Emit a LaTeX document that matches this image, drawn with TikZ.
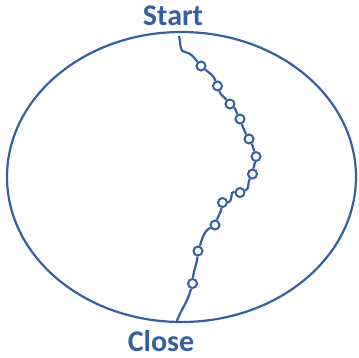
\documentclass[tikz,border=0pt]{standalone}
\usepackage{fontspec}
\setmainfont{Carlito}
\usetikzlibrary{shapes.geometric}
\definecolor{mainblue}{HTML}{35609F}
\begin{document}
\begin{tikzpicture}[x=1pt,y=-1pt,
  bead/.style={circle,draw=mainblue,fill=white,line width=2pt,inner sep=0pt,minimum size=9pt},
  lbl/.style={text=mainblue,font=\bfseries\fontsize{30}{32}\selectfont,inner sep=0pt},
  wig/.style={draw=mainblue,line width=2.2pt}]
\useasboundingbox (0,0) rectangle (359,357);
\node[draw=mainblue,line width=2.2pt,ellipse,minimum width=349pt,minimum height=290pt,inner sep=0pt] (ell) at (181.5,177) {};
\node[lbl] (start) at (173,15.5) {Start};
\node[lbl] (close) at (161,341.5) {Close};
\coordinate (s) at (179,36);
\coordinate (w) at (185,52);
\coordinate (e) at (176.5,322);
\node[bead] (b1) at (201,66) {};
\node[bead] (b2) at (217.5,86) {};
\node[bead] (b3) at (230,104) {};
\node[bead] (b4) at (240,119) {};
\node[bead] (b5) at (249,139) {};
\node[bead] (b6) at (256,156.5) {};
\node[bead] (b7) at (252.5,174) {};
\node[bead] (b8) at (240,192.5) {};
\node[bead] (b9) at (222.5,202.5) {};
\node[bead] (b10) at (215,225) {};
\node[bead] (b11) at (198,251) {};
\node[bead] (b12) at (192.5,283.5) {};
\draw[wig] (s) to[out=-70,in=170] (w) to[out=-10,in=130] (b1);
\draw[wig] (b1) to[out=-40,in=110] (b2);
\draw[wig] (b2) to[out=-70,in=130] (b3);
\draw[wig] (b3) to[out=-40,in=120] (b4);
\draw[wig] (b4) to[out=-70,in=120] (b5);
\draw[wig] (b5) to[out=-60,in=110] (b6);
\draw[wig] (b6) to[out=-100,in=80] (b7);
\draw[wig] (b7) to[out=-120,in=20] (b8);
\draw[wig] (b8) to[out=170,in=0] (b9);
\draw[wig] (b9) to[out=-100,in=70] (b10);
\draw[wig] (b10) to[out=-150,in=70] (b11);
\draw[wig] (b11) to[out=-95,in=85] (b12);
\draw[wig] (b12) to[out=-105,in=70] (e);
\end{tikzpicture}
\end{document}
